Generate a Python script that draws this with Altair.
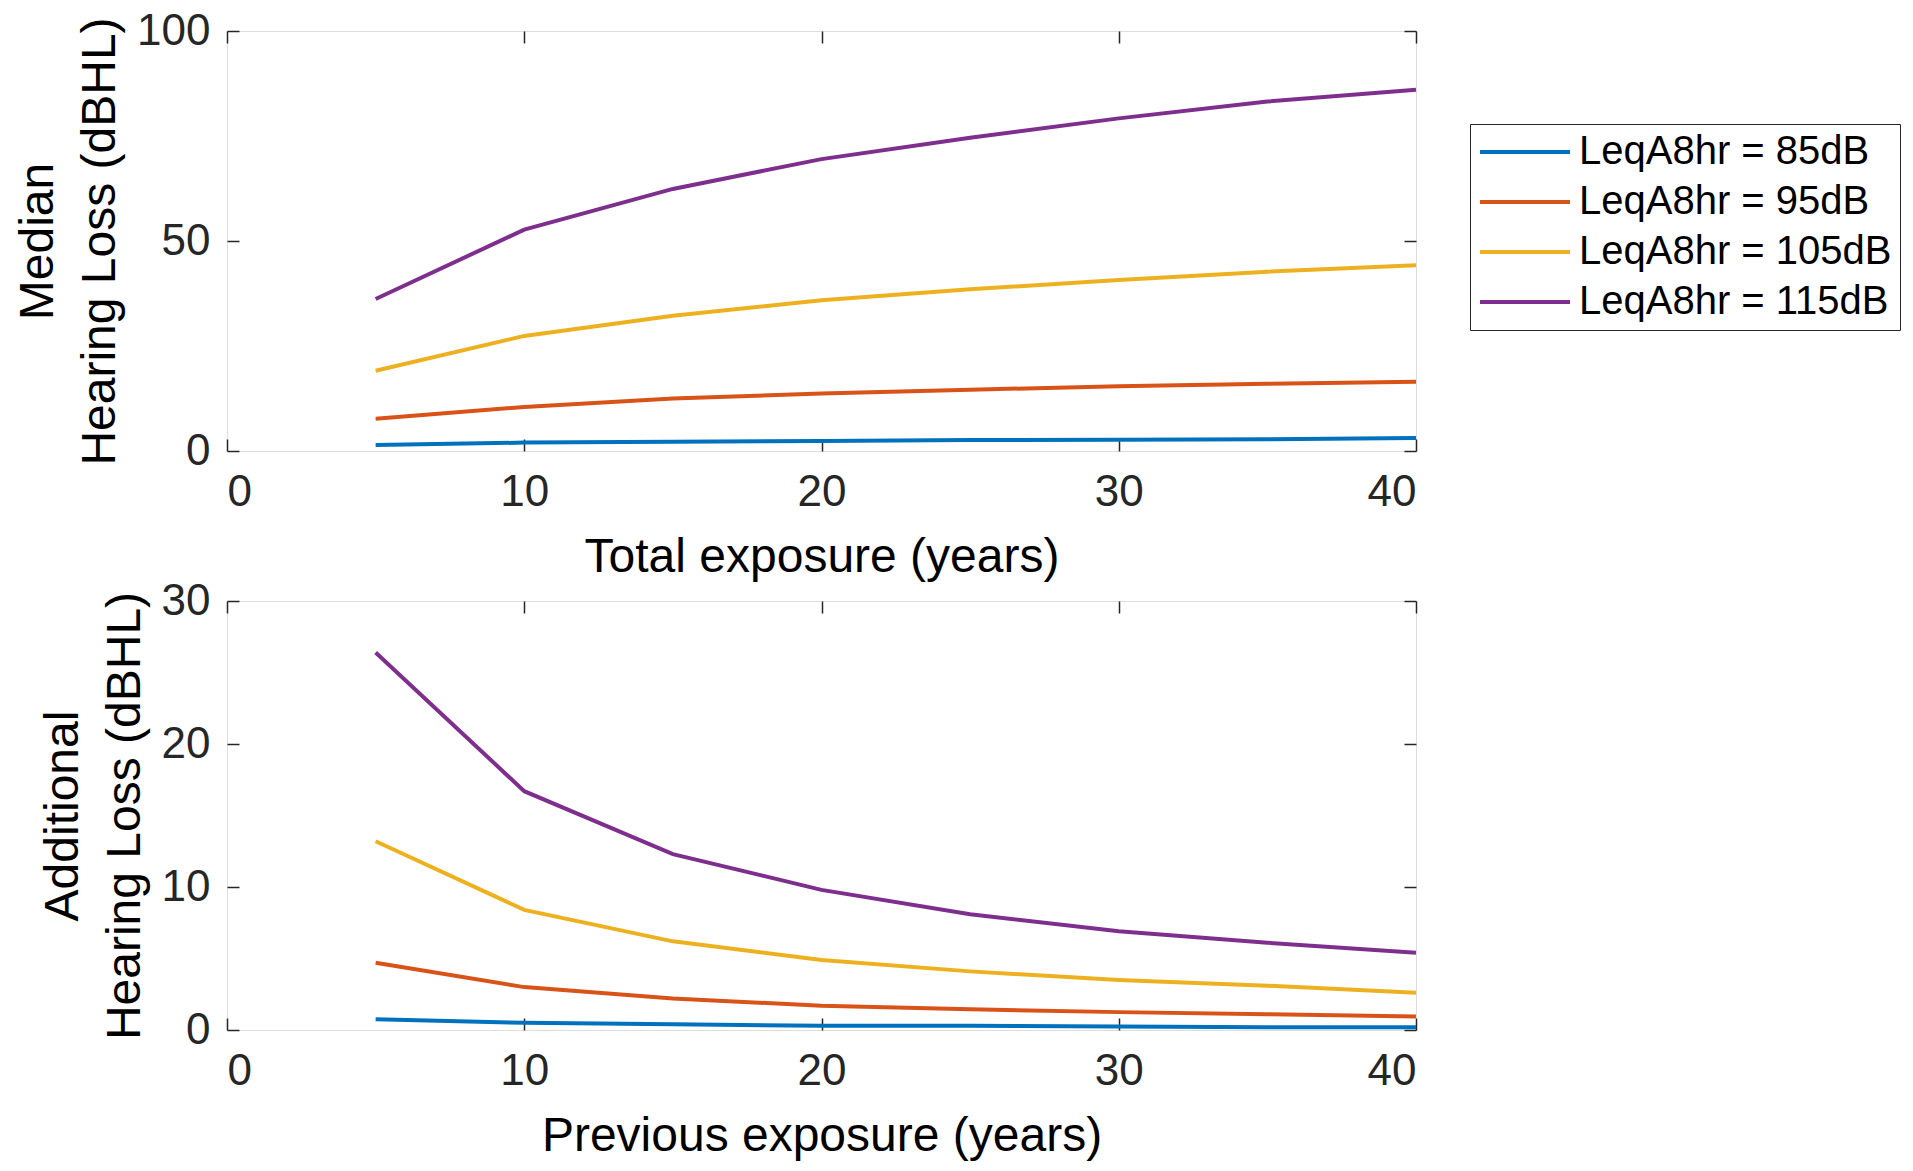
import altair as alt
import pandas as pd

years = [5, 10, 15, 20, 25, 30, 35, 40]
levels = ["LeqA8hr = 85dB", "LeqA8hr = 95dB", "LeqA8hr = 105dB", "LeqA8hr = 115dB"]
colors = ["#0072BD", "#D95319", "#EDB120", "#7E2F8E"]

# Top panel: median hearing loss vs total exposure
median_85 = [1.4, 2.0, 2.2, 2.4, 2.6, 2.7, 2.8, 3.1]
median_95 = [7.7, 10.5, 12.5, 13.7, 14.6, 15.4, 16.0, 16.5]
median_105 = [19.1, 27.4, 32.2, 35.9, 38.5, 40.7, 42.7, 44.2]
median_115 = [36.2, 52.7, 62.4, 69.5, 74.6, 79.2, 83.2, 86.0]

# Bottom panel: additional hearing loss vs previous exposure
add_85 = [0.75, 0.5, 0.4, 0.3, 0.3, 0.25, 0.2, 0.2]
add_95 = [4.7, 3.0, 2.2, 1.7, 1.45, 1.25, 1.1, 0.95]
add_105 = [13.2, 8.4, 6.2, 4.9, 4.1, 3.5, 3.1, 2.6]
add_115 = [26.4, 16.7, 12.3, 9.8, 8.1, 6.9, 6.1, 5.4]

x_ticks = [0, 10, 20, 30, 40]
top_y_ticks = [0, 50, 100]
bottom_y_ticks = [0, 10, 20, 30]


def make_df(series):
    rows = []
    for lvl, vals in zip(levels, series):
        for x, v in zip(years, vals):
            rows.append({"x": x, "y": v, "level": lvl})
    return pd.DataFrame(rows)


top_df = make_df([median_85, median_95, median_105, median_115])
bot_df = make_df([add_85, add_95, add_105, add_115])

FONT = "Liberation Sans"
TXT = "#262626"
W = 1189
TICK = 12


def panel(df, ydomain, yticks, xtitle, ytitle, show_legend, height):
    xscale = alt.Scale(domain=[0, 40], nice=False, zero=False)
    yscale = alt.Scale(domain=ydomain, nice=False)
    legend = alt.Legend(
        title=None, orient="none", legendX=1243, legendY=93,
        symbolType="M-4,0H1", symbolSize=1296, symbolStrokeWidth=4, symbolOffset=54,
        labelFontSize=40, labelFont=FONT, labelColor="#000000", labelLimit=600,
        labelOffset=7, rowPadding=10, padding=8,
        strokeColor="#262626", fillColor="white",
    )
    color = alt.Color(
        "level:N",
        scale=alt.Scale(domain=levels, range=colors),
        sort=levels,
        legend=legend if show_legend else None,
    )
    lines = alt.Chart(df).mark_line(strokeWidth=4).encode(
        x=alt.X("x:Q", scale=xscale, title=xtitle,
                axis=alt.Axis(orient="bottom", values=x_ticks, ticks=False, domain=False,
                              grid=False, labelFontSize=44, labelFont=FONT, labelColor=TXT,
                              labelPadding=19, titleFontSize=48, titleFont=FONT,
                              titleFontWeight="normal", titleColor="#000000", titlePadding=19)),
        y=alt.Y("y:Q", scale=yscale, title=ytitle,
                axis=alt.Axis(orient="left", values=yticks, ticks=False, domain=False,
                              grid=False, labelFontSize=44, labelFont=FONT, labelColor=TXT,
                              labelPadding=17, titleFontSize=48, titleFont=FONT,
                              titleFontWeight="normal", titleColor="#000000",
                              titleLineHeight=62, titlePadding=12)),
        color=color,
    )

    def tick_layer(xorient, yorient):
        return alt.Chart(df).mark_point(opacity=0, size=1).encode(
            x=alt.X("x:Q", scale=xscale, title=None,
                    axis=alt.Axis(orient=xorient, values=x_ticks, ticks=True, tickSize=TICK,
                                  tickColor=TXT, tickWidth=1.5, offset=-TICK, labels=False,
                                  domain=False, grid=False, minExtent=0, maxExtent=0)),
            y=alt.Y("y:Q", scale=yscale, title=None,
                    axis=alt.Axis(orient=yorient, values=yticks, ticks=True, tickSize=TICK,
                                  tickColor=TXT, tickWidth=1.5, offset=-TICK, labels=False,
                                  domain=False, grid=False, minExtent=0, maxExtent=0)),
        )

    return alt.layer(lines, tick_layer("bottom", "left"), tick_layer("top", "right")).resolve_axis(
        x="independent", y="independent"
    ).properties(width=W, height=height)


top = panel(top_df, [0, 100], top_y_ticks, "Total exposure (years)",
            ["Median", "Hearing Loss (dBHL)"], True, 420)
bottom = panel(bot_df, [0, 30], bottom_y_ticks, "Previous exposure (years)",
               ["Additional", "Hearing Loss (dBHL)"], False, 429)

chart = alt.vconcat(top, bottom, spacing=-4).properties(
    padding={"left": 6, "top": 0, "right": 0, "bottom": 0}
).configure_view(stroke=TXT, strokeWidth=2).configure(background="white")

chart.save("out.html", embed_options={"renderer": "svg", "actions": False})
